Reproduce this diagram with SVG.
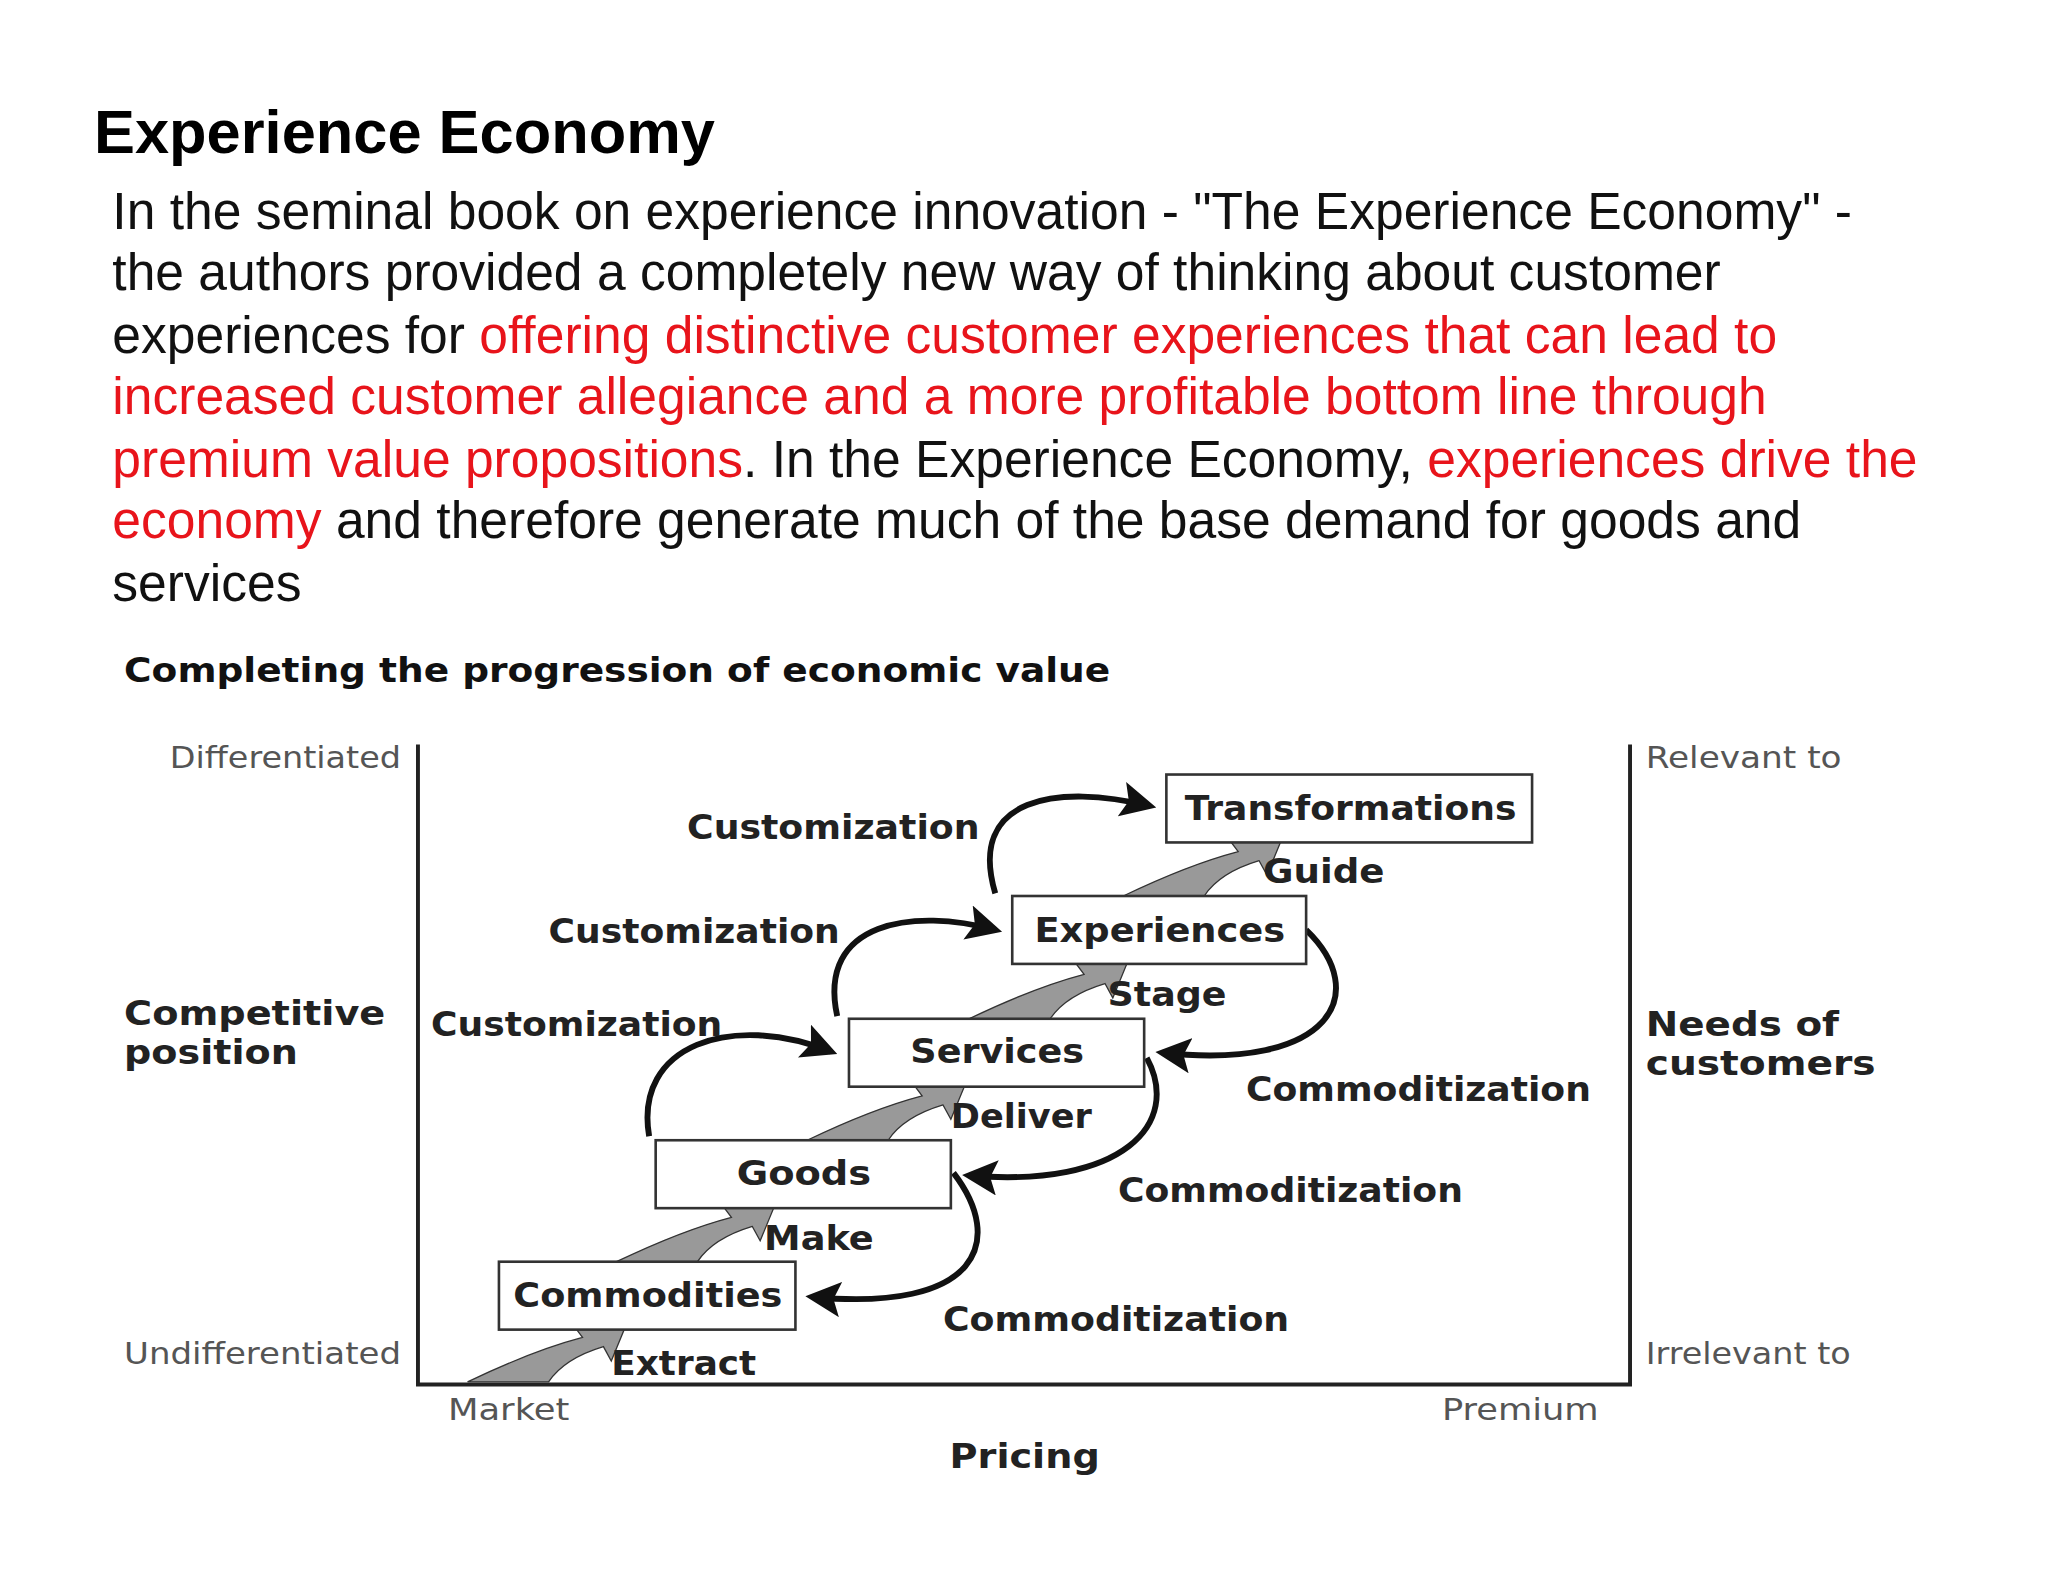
<svg xmlns="http://www.w3.org/2000/svg" width="2048" height="1582" viewBox="0 0 2048 1582">
<style>
.h{font-family:"Liberation Sans",Arial,sans-serif;font-weight:bold;font-size:47px;fill:#000}
.p{font-family:"Liberation Sans",Arial,sans-serif;font-size:39.5px;fill:#111}
.r{fill:#e8141b}
.ct{font-family:"DejaVu Sans",sans-serif;font-weight:bold;font-size:26px;fill:#111}
.lb{font-family:"DejaVu Sans",sans-serif;font-weight:bold;font-size:26px;fill:#222}
.ax{font-family:"DejaVu Sans",sans-serif;font-size:23px;fill:#555}
.box{fill:#fff;stroke:#333;stroke-width:2}
.axis{stroke:#222;stroke-width:3;fill:none}
.ga{fill:#999;stroke:#333;stroke-width:1}
.ba{fill:none;stroke:#111;stroke-width:4.5}
</style>
<defs>
<marker id="ah" viewBox="0 0 10 10" refX="8" refY="5" markerWidth="6" markerHeight="6" orient="auto" markerUnits="strokeWidth">
<path d="M0,0 L10,5 L0,10 L2,5 Z" fill="#111"/>
</marker>
<path id="gray" d="M0,0 Q50,-24 88,-34 L82,-42 L124,-50 L110,-16 L104,-27 Q74,-18 62,0 Z"/>
</defs>
<rect width="2048" height="1582" fill="#fff"/>
<g transform="scale(1.30612)">
<g id="heading">
<text class="h" x="72" y="117">Experience Economy</text>
<text class="p" x="86" y="175">In the seminal book on experience innovation - "The Experience Economy" -</text>
<text class="p" x="86" y="222">the authors provided a completely new way of thinking about customer</text>
<text class="p" x="86" y="270">experiences for <tspan class="r">offering distinctive customer experiences that can lead to</tspan></text>
<text class="p r" x="86" y="317">increased customer allegiance and a more profitable bottom line through</text>
<text class="p" x="86" y="365"><tspan class="r">premium value propositions</tspan>. In the Experience Economy, <tspan class="r">experiences drive the</tspan></text>
<text class="p" x="86" y="412"><tspan class="r">economy</tspan> and therefore generate much of the base demand for goods and</text>
<text class="p" x="86" y="460">services</text>
</g>
<text class="ct" x="95" y="522" textLength="755" lengthAdjust="spacingAndGlyphs">Completing the progression of economic value</text>
<g id="axes">
<path class="axis" d="M320,570 V1060 H1248 V570"/>
<text class="ax" x="130" y="588" textLength="177" lengthAdjust="spacingAndGlyphs">Differentiated</text>
<text class="ax" x="95" y="1044" textLength="212" lengthAdjust="spacingAndGlyphs">Undifferentiated</text>
<text class="lb" x="95" y="785" textLength="200" lengthAdjust="spacingAndGlyphs">Competitive</text>
<text class="lb" x="95" y="815" textLength="133" lengthAdjust="spacingAndGlyphs">position</text>
<text class="ax" x="1260" y="588" textLength="150" lengthAdjust="spacingAndGlyphs">Relevant to</text>
<text class="lb" x="1260" y="793" textLength="148" lengthAdjust="spacingAndGlyphs">Needs of</text>
<text class="lb" x="1260" y="823" textLength="176" lengthAdjust="spacingAndGlyphs">customers</text>
<text class="ax" x="1260" y="1044" textLength="157" lengthAdjust="spacingAndGlyphs">Irrelevant to</text>
<text class="ax" x="343" y="1087" textLength="93" lengthAdjust="spacingAndGlyphs">Market</text>
<text class="ax" x="1104" y="1087" textLength="120" lengthAdjust="spacingAndGlyphs">Premium</text>
<text class="lb" x="727" y="1124" textLength="115" lengthAdjust="spacingAndGlyphs">Pricing</text>
</g>
<g id="connectors">
<use href="#gray" class="ga" transform="translate(358,1058)"/>
<use href="#gray" class="ga" transform="translate(472,966)"/>
<use href="#gray" class="ga" transform="translate(618,873)"/>
<use href="#gray" class="ga" transform="translate(742,780)"/>
<use href="#gray" class="ga" transform="translate(860,686)"/>
<path class="ba" d="M497,870 C485,800 560,775 636,805" marker-end="url(#ah)"/>
<path class="ba" d="M641,778 C625,705 700,695 762,712" marker-end="url(#ah)"/>
<path class="ba" d="M762,684 C740,610 810,600 880,617" marker-end="url(#ah)"/>
<path class="ba" d="M1000,712 C1050,760 1020,820 890,806" marker-end="url(#ah)"/>
<path class="ba" d="M878,810 C905,860 860,910 742,900" marker-end="url(#ah)"/>
<path class="ba" d="M730,898 C770,950 750,1005 622,993" marker-end="url(#ah)"/>
</g>
<g id="n-transformations"><rect class="box" x="893" y="593" width="280" height="52"/><text class="lb" x="907" y="628" textLength="254" lengthAdjust="spacingAndGlyphs">Transformations</text></g>
<g id="n-experiences"><rect class="box" x="775" y="686" width="225" height="52"/><text class="lb" x="792" y="721" textLength="192" lengthAdjust="spacingAndGlyphs">Experiences</text></g>
<g id="n-services"><rect class="box" x="650" y="780" width="226" height="52"/><text class="lb" x="697" y="814" textLength="133" lengthAdjust="spacingAndGlyphs">Services</text></g>
<g id="n-goods"><rect class="box" x="502" y="873" width="226" height="52"/><text class="lb" x="564" y="907" textLength="103" lengthAdjust="spacingAndGlyphs">Goods</text></g>
<g id="n-commodities"><rect class="box" x="382" y="966" width="227" height="52"/><text class="lb" x="393" y="1001" textLength="206" lengthAdjust="spacingAndGlyphs">Commodities</text></g>
<g id="labels">
<text class="lb" x="526" y="642" textLength="224" lengthAdjust="spacingAndGlyphs">Customization</text>
<text class="lb" x="420" y="722" textLength="223" lengthAdjust="spacingAndGlyphs">Customization</text>
<text class="lb" x="330" y="793" textLength="223" lengthAdjust="spacingAndGlyphs">Customization</text>
<text class="lb" x="967" y="676" textLength="93" lengthAdjust="spacingAndGlyphs">Guide</text>
<text class="lb" x="848" y="770" textLength="91" lengthAdjust="spacingAndGlyphs">Stage</text>
<text class="lb" x="728" y="864" textLength="108" lengthAdjust="spacingAndGlyphs">Deliver</text>
<text class="lb" x="585" y="957" textLength="84" lengthAdjust="spacingAndGlyphs">Make</text>
<text class="lb" x="468" y="1053" textLength="111" lengthAdjust="spacingAndGlyphs">Extract</text>
<text class="lb" x="954" y="843" textLength="264" lengthAdjust="spacingAndGlyphs">Commoditization</text>
<text class="lb" x="856" y="920" textLength="264" lengthAdjust="spacingAndGlyphs">Commoditization</text>
<text class="lb" x="722" y="1019" textLength="265" lengthAdjust="spacingAndGlyphs">Commoditization</text>
</g>
</g>
</svg>
